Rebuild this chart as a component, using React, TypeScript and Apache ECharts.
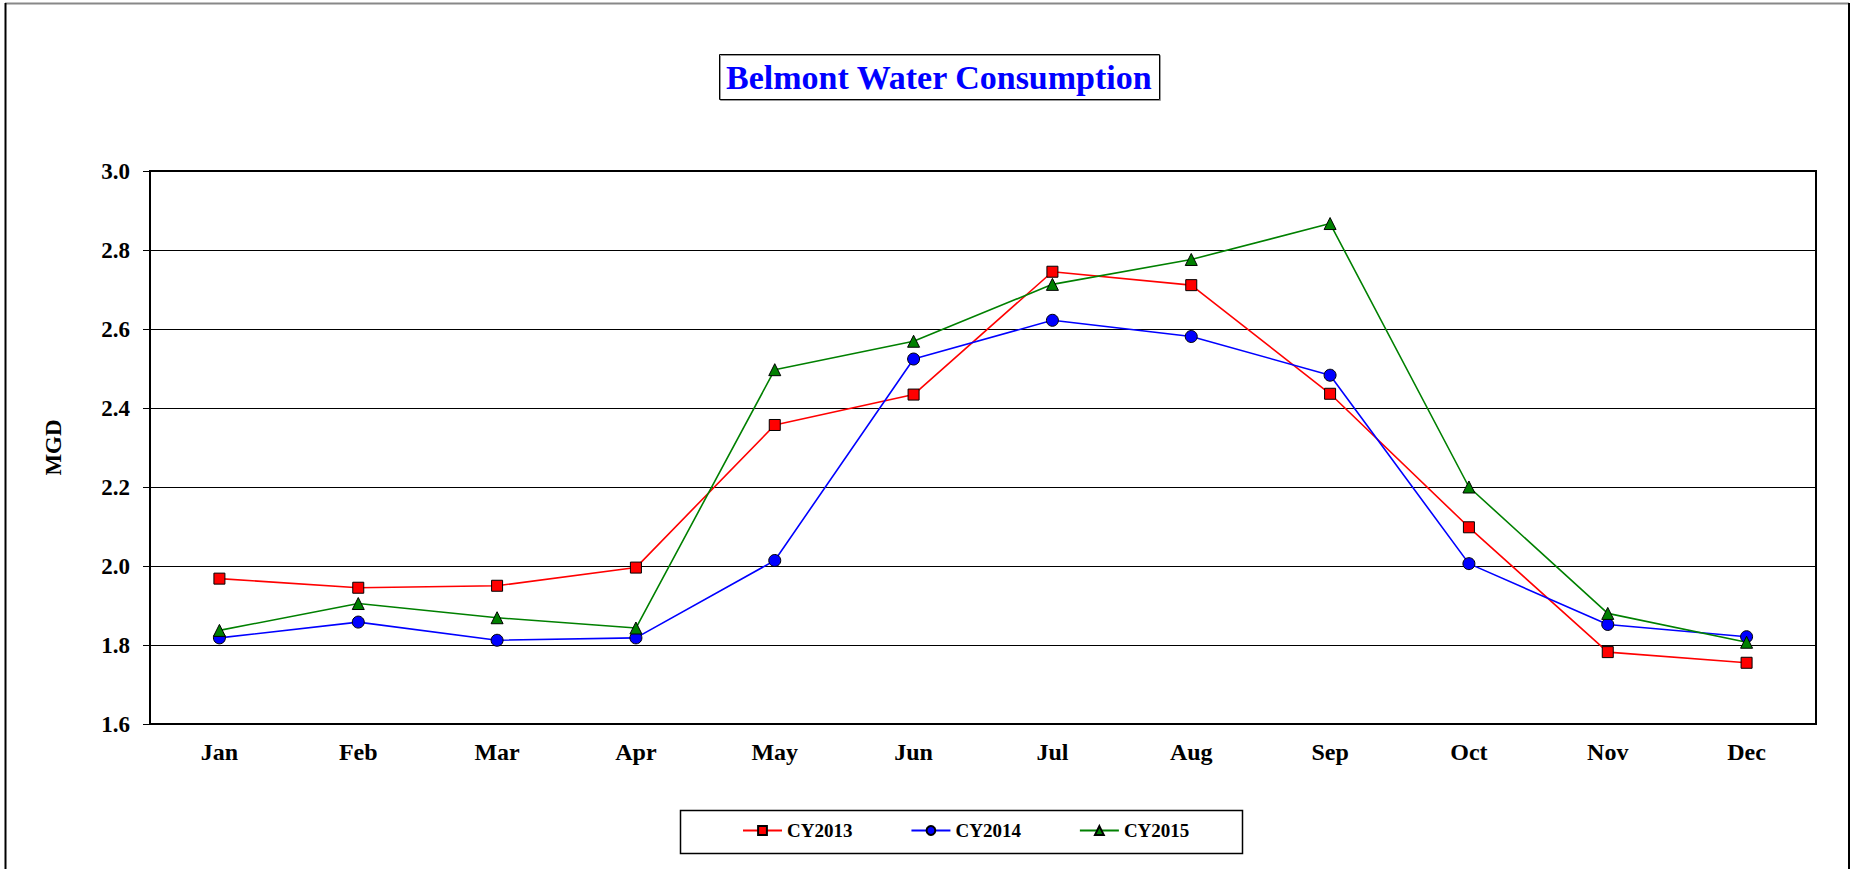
import React, { useEffect, useRef } from "react";
import * as echarts from "echarts";

const months = ["Jan", "Feb", "Mar", "Apr", "May", "Jun", "Jul", "Aug", "Sep", "Oct", "Nov", "Dec"];
const cy2013 = [1.968, 1.945, 1.95, 1.996, 2.357, 2.434, 2.745, 2.711, 2.436, 2.098, 1.782, 1.755];
const cy2014 = [1.818, 1.858, 1.812, 1.818, 2.014, 2.524, 2.622, 2.581, 2.483, 2.006, 1.852, 1.821];
const cy2015 = [1.837, 1.905, 1.869, 1.843, 2.497, 2.569, 2.713, 2.776, 2.867, 2.2, 1.88, 1.807];
const seriesNames = ["CY2013", "CY2014", "CY2015"];
const yTicks = { min: 1.6, max: 3.0, interval: 0.2 };

const FONT = "'Liberation Serif', 'Times New Roman', serif";

export default function App() {
  const ref = useRef<HTMLDivElement>(null);
  useEffect(() => {
    document.body.style.margin = "0";
    const chart = echarts.init(ref.current!, null, { renderer: "svg" });
    const mk = (name: string, data: number[], color: string, symbol: string, size: number) => ({
      name,
      type: "line",
      data,
      symbol,
      symbolSize: size,
      showAllSymbol: true,
      lineStyle: { color, width: 1.6 },
      itemStyle: { color, borderColor: "#000", borderWidth: 1 },
      emphasis: { disabled: true },
    });
    chart.setOption({
      animation: false,
      backgroundColor: "#fff",
      textStyle: { fontFamily: FONT },
      title: {
        text: "Belmont Water Consumption",
        left: 719,
        top: 54,
        padding: [5, 7, 5, 7],
        borderColor: "#000",
        borderWidth: 1,
        shadowColor: "#999",
        shadowOffsetX: 1,
        shadowOffsetY: 1,
        shadowBlur: 0,
        textStyle: { fontFamily: FONT, fontWeight: "bold", fontSize: 34, color: "#0000FF", lineHeight: 36 },
      },
      legend: {
        data: seriesNames,
        left: 737,
        top: 816,
        itemWidth: 39,
        itemHeight: 11,
        itemGap: 58,
        textStyle: { fontFamily: FONT, fontWeight: "bold", fontSize: 19, color: "#000" },
      },
      grid: {
        left: 150,
        right: 35,
        top: 171,
        bottom: 145,
        show: true,
        borderColor: "#000",
        borderWidth: 2,
        backgroundColor: "#fff",
      },
      xAxis: {
        type: "category",
        data: months,
        boundaryGap: true,
        axisLine: { lineStyle: { color: "#000", width: 2 } },
        axisTick: { inside: true, length: 7, lineStyle: { color: "#000", width: 1 } },
        axisLabel: { fontFamily: FONT, fontWeight: "bold", fontSize: 24, color: "#000", margin: 16 },
        splitLine: { show: false },
      },
      yAxis: {
        type: "value",
        min: yTicks.min,
        max: yTicks.max,
        interval: yTicks.interval,
        name: "MGD",
        nameLocation: "middle",
        nameRotate: 90,
        nameGap: 85,
        nameTextStyle: { fontFamily: FONT, fontWeight: "bold", fontSize: 23, color: "#000" },
        axisLine: { show: true, lineStyle: { color: "#000", width: 2 } },
        axisTick: { show: true, length: 7, lineStyle: { color: "#000", width: 1 } },
        axisLabel: {
          fontFamily: FONT,
          fontWeight: "bold",
          fontSize: 23,
          color: "#000",
          margin: 20,
          formatter: (v: number) => v.toFixed(1),
        },
        splitLine: { show: true, lineStyle: { color: "#000", width: 1 } },
      },
      graphic: [
        { type: "line", shape: { x1: 5, y1: 3.5, x2: 1849, y2: 3.5 }, style: { stroke: "#888", lineWidth: 2 } },
        { type: "line", shape: { x1: 5.5, y1: 3, x2: 5.5, y2: 869 }, style: { stroke: "#000", lineWidth: 2 } },
        { type: "line", shape: { x1: 1849, y1: 3, x2: 1849, y2: 869 }, style: { stroke: "#000", lineWidth: 2 } },
        {
          type: "rect",
          shape: { x: 680.5, y: 810.5, width: 562, height: 43 },
          style: { fill: "none", stroke: "#000", lineWidth: 1.5 },
          z: -1,
        },
      ],
      series: [
        mk(seriesNames[0], cy2013, "#FF0000", "rect", 11),
        mk(seriesNames[1], cy2014, "#0000FF", "circle", 12),
        mk(seriesNames[2], cy2015, "#008000", "triangle", 12),
      ],
    });
    return () => chart.dispose();
  }, []);
  return <div ref={ref} style={{ width: 1851, height: 869 }} />;
}
